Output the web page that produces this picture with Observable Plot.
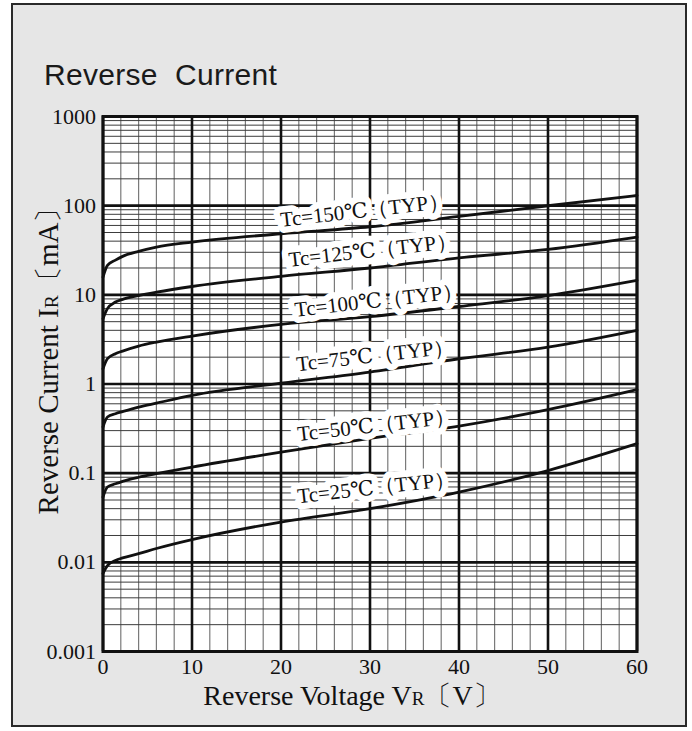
<!DOCTYPE html>
<html>
<head>
<meta charset="utf-8">
<script src="https://cdn.jsdelivr.net/npm/d3@7"></script>
<script src="https://cdn.jsdelivr.net/npm/@observablehq/plot@0.6"></script>
<style>
  html, body { margin: 0; padding: 0; background: #ffffff; }
  #page { position: relative; width: 692px; height: 731px; overflow: hidden; }
  #frame { position: absolute; left: 11px; top: 3px; width: 672px; height: 720px;
           border: 2px solid #2a2a2a; background: #e6e6e6; }
  #title { position: absolute; left: 44px; top: 60px; margin: 0;
           font-family: "Liberation Sans", Arial, sans-serif; font-size: 30px; line-height: 1;
           font-weight: normal; color: #1a1a1a; white-space: pre; letter-spacing: 0.3px; }
  #chart { position: absolute; left: 0; top: 0; }
</style>
</head>
<body>
<div id="page">
  <div id="frame"></div>
  <div id="title">Reverse  Current</div>
  <div id="chart"></div>
</div>
<script>
// ---- data ----
const xVoltage = [0, 0.5, 1.4, 2.2, 4, 6, 10, 20, 30, 40, 50, 60];
const ir150 = [15.8, 21.4, 24.5, 27, 30.7, 34.3, 39, 48.4, 58, 75.7, 99.8, 130];
const ir125 = [5.4, 7.0, 8.3, 8.9, 9.8, 10.7, 12.4, 16.1, 20, 26, 32.3, 44.4];
const ir100 = [1.48, 1.92, 2.19, 2.34, 2.66, 2.95, 3.45, 4.66, 5.7, 7.4, 9.8, 14.5];
const ir75  = [0.33, 0.426, 0.464, 0.49, 0.55, 0.61, 0.745, 1.02, 1.36, 1.92, 2.59, 4.0];
const ir50  = [0.054, 0.07, 0.076, 0.081, 0.09, 0.0986, 0.117, 0.172, 0.245, 0.337, 0.515, 0.863];
const ir25  = [0.0075, 0.0092, 0.0105, 0.0112, 0.0125, 0.0143, 0.018, 0.0283, 0.04, 0.0614, 0.107, 0.214];

const temps = ["150", "125", "100", "75", "50", "25"];
const labelX = [29.4, 30.3, 31.0, 30.6, 30.7, 30.7];
const labelY = [88.3, 31.5, 8.65, 2.09, 0.344, 0.069];

const xTicks = [0, 10, 20, 30, 40, 50, 60];
const xMinorTicks = [0, 2, 4, 6, 8, 10, 12, 14, 16, 18, 20, 22, 24, 26, 28, 30, 32, 34, 36, 38, 40, 42, 44, 46, 48, 50, 52, 54, 56, 58, 60];
const yTicks = [0.001, 0.01, 0.1, 1, 10, 100, 1000];
const yTickLabels = ["0.001", "0.01", "0.1", "1", "10", "100", "1000"];

const xTitle = "Reverse Voltage V_R〔V〕";
const yTitle = "Reverse Current I_R〔mA〕";

// ---- tables built from the arrays ----
const series = [ir150, ir125, ir100, ir75, ir50, ir25];
const rows = series.flatMap((s, i) => s.map((ir, j) => ({t: temps[i], v: xVoltage[j], ir})));
const labels = temps.map((t, i) => ({x: labelX[i], y: labelY[i], text: `Tc=${t}℃（TYP）`}));
const yLabelOf = (d) => {
  let best = 0;
  yTicks.forEach((t, i) => { if (Math.abs(Math.log10(t) - Math.log10(d)) < Math.abs(Math.log10(yTicks[best]) - Math.log10(d))) best = i; });
  return yTickLabels[best];
};

const chart = Plot.plot({
  width: 692,
  height: 731,
  marginLeft: 102.5,
  marginRight: 55.5,
  marginTop: 116,
  marginBottom: 80,
  style: {background: "transparent", fontFamily: "'Liberation Serif', 'DejaVu Serif', serif", color: "#111", overflow: "visible"},
  x: {domain: [0, 60]},
  y: {type: "log", domain: [0.001, 1000]},
  marks: [
    Plot.frame({fill: "white", stroke: null}),
    Plot.gridX({ticks: xMinorTicks, stroke: "#7a7a7a", strokeOpacity: 1, strokeWidth: 1.2}),
    Plot.gridY({ticks: 30, stroke: "#3c3c3c", strokeOpacity: 1, strokeWidth: 1}),
    Plot.gridX({ticks: xTicks, stroke: "#111", strokeOpacity: 1, strokeWidth: 2.6}),
    Plot.gridY({ticks: yTicks, stroke: "#111", strokeOpacity: 1, strokeWidth: 2.6}),
    Plot.frame({stroke: "#111", strokeWidth: 3}),
    Plot.line(rows, {x: "v", y: "ir", z: "t", stroke: "#111", strokeWidth: 2.8, curve: "monotone-x"}),
    Plot.text(labels, {x: "x", y: "y", text: "text", rotate: -6.5, fontSize: 21, fill: "#111",
                       stroke: "white", strokeWidth: 13, strokeLinejoin: "round"}),
    Plot.axisX({ticks: xTicks, tickSize: 0, tickPadding: 7, fontSize: 22, label: null}),
    Plot.axisY({ticks: yTicks, tickFormat: yLabelOf, tickSize: 0, tickPadding: 7, fontSize: 22, label: null}),
    Plot.text([xTitle], {frameAnchor: "bottom", text: d => d, textAnchor: "middle", lineAnchor: "bottom",
                         dx: -18, dy: 53, fontSize: 28, fill: "#111"}),
    Plot.text([yTitle], {frameAnchor: "left", text: d => d, textAnchor: "middle", lineAnchor: "middle",
                         rotate: -90, dx: -54, dy: -30, fontSize: 29, fill: "#111"})
  ]
});

// small "R" in the axis titles (I_R, V_R)
const NS = "http://www.w3.org/2000/svg";
chart.querySelectorAll("text").forEach(t => {
  const s = t.textContent;
  if (s.includes("_R")) {
    const [a, b] = s.split("_R");
    t.textContent = "";
    const t1 = document.createElementNS(NS, "tspan"); t1.textContent = a;
    const t2 = document.createElementNS(NS, "tspan"); t2.textContent = "R"; t2.setAttribute("font-size", "0.68em");
    const t3 = document.createElementNS(NS, "tspan"); t3.textContent = b;
    t.append(t1, t2, t3);
  }
});

document.getElementById("chart").append(chart);
</script>
</body>
</html>
